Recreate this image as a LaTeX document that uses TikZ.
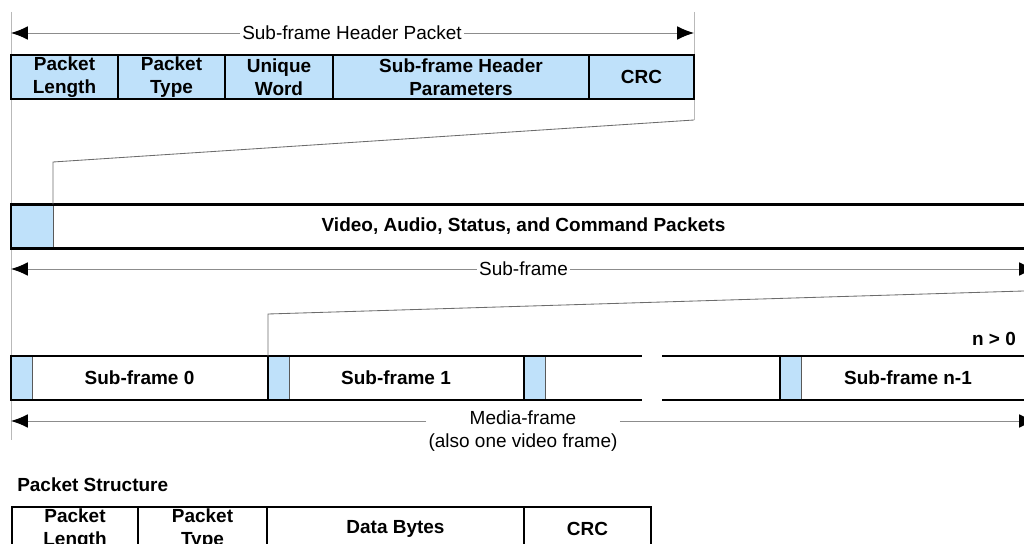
\documentclass[tikz,border=0pt]{standalone}
\usepackage{fontspec}
\setmainfont{Liberation Sans}
\usetikzlibrary{positioning, arrows.meta}
\definecolor{cellblue}{HTML}{BFE1FA}
\definecolor{dimgray}{HTML}{8C8C8C}
\newcommand{\pxu}{0.025cm}

\begin{document}
\begin{tikzpicture}[x=0.025cm, y=-0.025cm, font=\fontsize{13.5}{16}\selectfont,
  cell/.style={draw, line width=1.3pt, outer sep=0pt, inner sep=0pt, minimum width=#1*\pxu, minimum height=44*\pxu, align=center, font=\fontsize{13.5}{16}\selectfont\bfseries},
  bluecell/.style={draw=gray!70!black, fill=cellblue, line width=0.6pt, outer sep=0pt, inner sep=0pt, minimum width=#1*\pxu, minimum height=44*\pxu},
  boxframe/.style={line width=2.1pt},
  dimlabel/.style={fill=white, inner sep=1.5pt, align=center},
  dimarrow/.style={dimgray, line width=0.7pt, -{Latex[length=4.2mm, width=3.4mm, color=black]}},
  extline/.style={gray!55, line width=0.6pt},
  zoomline/.style={gray!85!black, line width=0.6pt}]

  \useasboundingbox (0,0) rectangle (1024,544);

  % extension lines
  \coordinate (lt) at (11,12); \coordinate (lb) at (11,440);
  \coordinate (rt) at (694,12); \coordinate (rk) at (694,120);
  \draw[extline] (lt) -- (lb);
  \draw[extline] (rt) -- (rk);

  % sub-frame header packet
  \node[dimlabel] (hdrlab) at (352,33) {Sub-frame Header Packet};
  \coordinate (hl) at (11,33); \coordinate (hr) at (694,33);
  \draw[dimarrow] (hdrlab) -- (hl);
  \draw[dimarrow] (hdrlab) -- (hr);

  \node[cell=107, fill=cellblue] (plen) at (64.5,77) {Packet\\Length};
  \node[cell=107, fill=cellblue] (ptype) at (171.5,77) {Packet\\Type};
  \node[cell=108, fill=cellblue] (uword) at (279,77) {Unique\\Word};
  \node[cell=256, fill=cellblue] (hparam) at (461,77) {Sub-frame Header\\Parameters};
  \node[cell=105, fill=cellblue] (hcrc) at (641.5,77) {CRC};
  \draw[boxframe] (plen.north west) rectangle (hcrc.south east);

  % sub-frame
  \node[bluecell=42, anchor=west] (vblue) at (11,226.5) {};
  \node[cell=1025, line width=2.1pt, anchor=west] (sfbox) at (11,226.5) {Video, Audio, Status, and Command Packets};
  \draw[zoomline] (rk) -- (vblue.north east |- 0,162) -- (vblue.north east);

  \node[dimlabel] (sflab) at (523.5,269) {Sub-frame};
  \coordinate (sl) at (11,269); \coordinate (sr) at (1036,269);
  \draw[dimarrow] (sflab) -- (sl);
  \draw[dimarrow] (sflab) -- (sr);

  % media-frame
  \node[bluecell=21, anchor=west] (b0) at (11,378) {};
  \node[bluecell=21, anchor=west] (b1) at (268,378) {};
  \node[bluecell=21, anchor=west] (b2) at (524,378) {};
  \node[bluecell=21, anchor=west] (bn) at (780,378) {};
  \node[cell=257, line width=2.1pt, anchor=west] (sf0) at (11,378) {Sub-frame 0};
  \node[cell=256, line width=2.1pt, anchor=west] (sf1) at (268,378) {Sub-frame 1};
  \node[cell=256, line width=2.1pt, anchor=west] (sfn) at (780,378) {Sub-frame n-1};
  \coordinate (gtl) at (642,356); \coordinate (gbl) at (642,400);
  \coordinate (gtr) at (662,356); \coordinate (gbr) at (662,400);
  \draw[boxframe] (b2.north west) -- (gtl);
  \draw[boxframe] (b2.south west) -- (gbl);
  \draw[boxframe] (gtr) -- (sfn.north west);
  \draw[boxframe] (gbr) -- (sfn.south west);

  \coordinate (zr) at (1040,290.5);
  \draw[zoomline] (zr) -- (sf1.north west |- 0,314) -- (sf1.north west);

  \node[font=\fontsize{13.5}{16}\selectfont\bfseries] (ncond) at (994,339) {n > 0};

  \node[dimlabel] (mflab) at (523,431) {Media-frame\\(also one video frame)};
  \coordinate (ml) at (11,421); \coordinate (mr) at (1036,421);
  \draw[dimarrow] (mflab.west |- ml) -- (ml);
  \draw[dimarrow] (mflab.east |- mr) -- (mr);

  % packet structure
  \node[font=\fontsize{13.5}{16}\selectfont\bfseries, anchor=west, inner sep=0pt] (pstruct) at (17,485) {Packet Structure};
  \node[cell=126] (blen) at (75,529) {Packet\\Length};
  \node[cell=129] (btype) at (202.5,529) {Packet\\Type};
  \node[cell=257] (bdata) at (395.5,529) {Data Bytes};
  \node[cell=127] (bcrc) at (587.5,529) {CRC};
  \draw[boxframe] (blen.north west) rectangle (bcrc.south east);
\end{tikzpicture}
\end{document}
